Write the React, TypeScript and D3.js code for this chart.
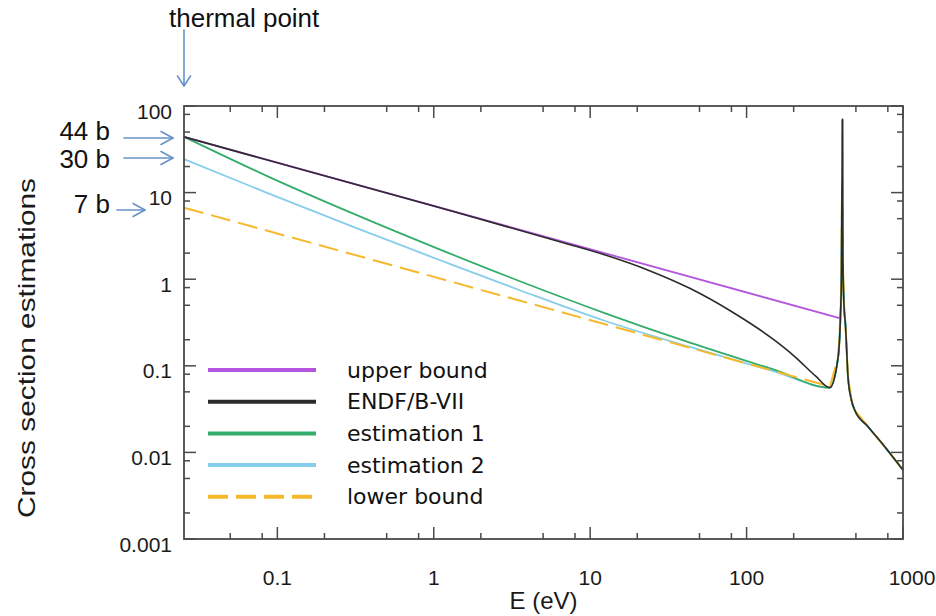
import React from "react";
import * as d3 from "d3";

// ---------- data ----------
const ENERGY_UPPER = [0.0253, 393];
const XS_UPPER = [44, 0.355];

const ENERGY_ENDF = [0.0253, 1, 6.73, 12.5, 23.3, 43.3, 80.5, 150, 204, 279];
const XS_ENDF = [44, 7.0, 2.64, 1.9, 1.28, 0.785, 0.421, 0.199, 0.127, 0.0748];

// resonance region shared by all curves that reach it
const ENERGY_RES = [340, 385, 398, 404, 407, 409, 410, 411, 413, 420, 428, 445, 468, 491, 598, 764, 1000];
const XS_RES = [0.056, 0.127, 0.369, 1.07, 10, 20, 70, 10, 1.5, 0.48, 0.312, 0.0748, 0.0403, 0.0309, 0.0198, 0.01165, 0.00627];

const ENERGY_EST = [0.0253, 0.0875, 0.303, 1.05, 3.62, 12.5, 43.4, 150];
const XS_EST1 = [44, 15.3, 5.75, 2.27, 0.935, 0.404, 0.185, 0.0902];
const XS_EST2 = [24.3, 9.8, 4.04, 1.71, 0.736, 0.329, 0.165, 0.0863];

const ENERGY_LOWER = [0.0253, 300];
const XS_LOWER = [6.7, 0.0615];

const X_DOMAIN = [0.0253, 1000];
const Y_DOMAIN = [0.001, 100];
const X_TICK_LABELS = ["0.1", "1", "10", "100", "1000"];
const Y_TICK_LABELS = ["100", "10", "1", "0.1", "0.01", "0.001"];
const MINOR_MULTS = [2, 5, 8];

const SERIES_NAMES = ["upper bound", "ENDF/B-VII", "estimation 1", "estimation 2", "lower bound"];
const SERIES_COLORS = ["#b455df", "#2b2b2b", "#34ad6c", "#87ceeb", "#f7b92c"];

const ANNOT_LABELS = ["44 b", "30 b", "7 b"];

// ---------- layout ----------
const W = 936;
const H = 616;
const L = 184, R = 903, T = 106, B = 539;

const zip = (xs: number[], ys: number[]) => xs.map((e, i) => [e, ys[i]] as [number, number]);

export default function App() {
  const x = d3.scaleLog().domain(X_DOMAIN).range([L, R]);
  const y = d3.scaleLog().domain(Y_DOMAIN).range([B, T]);

  const res = zip(ENERGY_RES, XS_RES);
  const series: { pts: [number, number][]; color: string; dash?: string; w: number; straight?: boolean }[] = [
    { pts: [...zip(ENERGY_EST, XS_EST2), ...res], color: SERIES_COLORS[3], w: 1.8 },
    { pts: [...zip(ENERGY_EST, XS_EST1), ...res], color: SERIES_COLORS[2], w: 1.8 },
    { pts: [...zip(ENERGY_LOWER, XS_LOWER), ...res], color: SERIES_COLORS[4], dash: "20,8", w: 2, straight: true },
    { pts: zip(ENERGY_UPPER, XS_UPPER), color: SERIES_COLORS[0], w: 1.8, straight: true },
    { pts: [...zip(ENERGY_ENDF, XS_ENDF), ...res], color: SERIES_COLORS[1], w: 1.6 },
  ];

  const smooth = d3
    .line<[number, number]>()
    .x((d) => x(d[0]))
    .y((d) => y(d[1]))
    .curve(d3.curveMonotoneX);
  const straight = d3
    .line<[number, number]>()
    .x((d) => x(d[0]))
    .y((d) => y(d[1]))
    .curve(d3.curveLinear);

  const xMajors = X_TICK_LABELS.map(Number);
  const yMajors = Y_TICK_LABELS.map(Number);
  const minorsFor = (dom: number[]) => {
    const out: number[] = [];
    for (let k = -3; k <= 3; k++) {
      for (const m of MINOR_MULTS) {
        const v = m * Math.pow(10, k);
        if (v > dom[0] * 1.0001 && v < dom[1] * 0.9999) out.push(v);
      }
    }
    return out;
  };
  const xMinors = minorsFor(X_DOMAIN);
  const yMinors = minorsFor(Y_DOMAIN);

  const axisColor = "#4a4a4a";
  const MAJ = 12, MIN = 6;
  const arrowColor = "#6892c9";

  const legendY0 = 370;
  const legendDY = 31.7;

  const annotY = [138, 158, 210];
  const annotX0 = [124, 124, 117];
  const annotX1 = [173, 173, 145];
  const annotBase = [139.5, 168.3, 213.3];

  return (
    <svg
      width={W}
      height={H}
      style={{ position: "absolute", left: 0, top: 0, background: "#fff" }}
    >
      <rect x={0} y={0} width={W} height={H} fill="#fff" />

      {/* curves */}
      <g fill="none" strokeLinejoin="round">
        {series.map((s, i) => (
          <path
            key={i}
            d={(s.straight ? straight(s.pts) : smooth(s.pts)) || ""}
            stroke={s.color}
            strokeWidth={s.w}
            strokeDasharray={s.dash}
          />
        ))}
      </g>

      {/* frame */}
      <rect x={L} y={T} width={R - L} height={B - T} fill="none" stroke={axisColor} strokeWidth={1.8} />

      {/* ticks */}
      <g stroke={axisColor} strokeWidth={1.5}>
        {xMajors.map((v, i) => (
          <g key={"xm" + i}>
            <line x1={x(v)} x2={x(v)} y1={B} y2={B - MAJ} />
            <line x1={x(v)} x2={x(v)} y1={T} y2={T + MAJ} />
          </g>
        ))}
        {xMinors.map((v, i) => (
          <g key={"xn" + i}>
            <line x1={x(v)} x2={x(v)} y1={B} y2={B - MIN} />
            <line x1={x(v)} x2={x(v)} y1={T} y2={T + MIN} />
          </g>
        ))}
        {yMajors.map((v, i) => (
          <g key={"ym" + i}>
            <line x1={L} x2={L + MAJ} y1={y(v)} y2={y(v)} />
            <line x1={R} x2={R - MAJ} y1={y(v)} y2={y(v)} />
          </g>
        ))}
        {yMinors.map((v, i) => (
          <g key={"yn" + i}>
            <line x1={L} x2={L + MIN} y1={y(v)} y2={y(v)} />
            <line x1={R} x2={R - MIN} y1={y(v)} y2={y(v)} />
          </g>
        ))}
      </g>

      {/* tick labels */}
      <g fontFamily="'Liberation Sans', Arial, sans-serif" fontSize={21} fill="#1a1a1a">
        {X_TICK_LABELS.map((t, i) => (
          <text key={"xl" + i} x={x(xMajors[i]) + (t === "1000" ? 9 : 0)} y={585} textAnchor="middle">
            {t}
          </text>
        ))}
        {Y_TICK_LABELS.map((t, i) => (
          <text key={"yl" + i} x={172} y={y(yMajors[i]) + 5} textAnchor="end" dominantBaseline="central">
            {t}
          </text>
        ))}
      </g>

      {/* axis titles */}
      <text
        x={(L + R) / 2}
        y={609}
        textAnchor="middle"
        fontFamily="'Liberation Sans', Arial, sans-serif"
        fontSize={24}
        fill="#1a1a1a"
      >
        E (eV)
      </text>
      <text
        transform={`translate(35, 348) rotate(-90)`}
        textAnchor="middle"
        fontFamily="'Liberation Sans', Arial, sans-serif"
        fontSize={24}
        fill="#1a1a1a"
        textLength={340}
        lengthAdjust="spacingAndGlyphs"
      >
        Cross section estimations
      </text>

      {/* legend */}
      <g>
        {SERIES_NAMES.map((name, i) => {
          const ly = legendY0 + i * legendDY;
          return (
            <g key={"lg" + i}>
              <line
                x1={208}
                x2={316}
                y1={ly}
                y2={ly}
                stroke={SERIES_COLORS[i]}
                strokeWidth={4}
                strokeDasharray={i === 4 ? "20,8" : undefined}
              />
              <text
                x={347}
                y={ly}
                dominantBaseline="central"
                fontFamily="'DejaVu Sans', Verdana, sans-serif"
                fontSize={22}
                fill="#111"
              >
                {name}
              </text>
            </g>
          );
        })}
      </g>

      {/* annotations */}
      <g fontFamily="'Liberation Sans', Arial, sans-serif" fontSize={26} fill="#111">
        <text x={169} y={27}>thermal point</text>
        {ANNOT_LABELS.map((t, i) => (
          <text key={"an" + i} x={110} y={annotBase[i]} textAnchor="end">
            {t}
          </text>
        ))}
      </g>
      <g stroke={arrowColor} strokeWidth={1.6} fill="none" strokeLinecap="round" strokeLinejoin="round">
        <line x1={184} x2={184} y1={30} y2={86} />
        <polyline points={`177.5,76 184,86 190.5,76`} />
        {ANNOT_LABELS.map((_, i) => (
          <g key={"ar" + i}>
            <line x1={annotX0[i]} x2={annotX1[i]} y1={annotY[i]} y2={annotY[i]} />
            <polyline
              points={`${annotX1[i] - 12},${annotY[i] - 6.5} ${annotX1[i]},${annotY[i]} ${annotX1[i] - 12},${annotY[i] + 6.5}`}
            />
          </g>
        ))}
      </g>
    </svg>
  );
}
